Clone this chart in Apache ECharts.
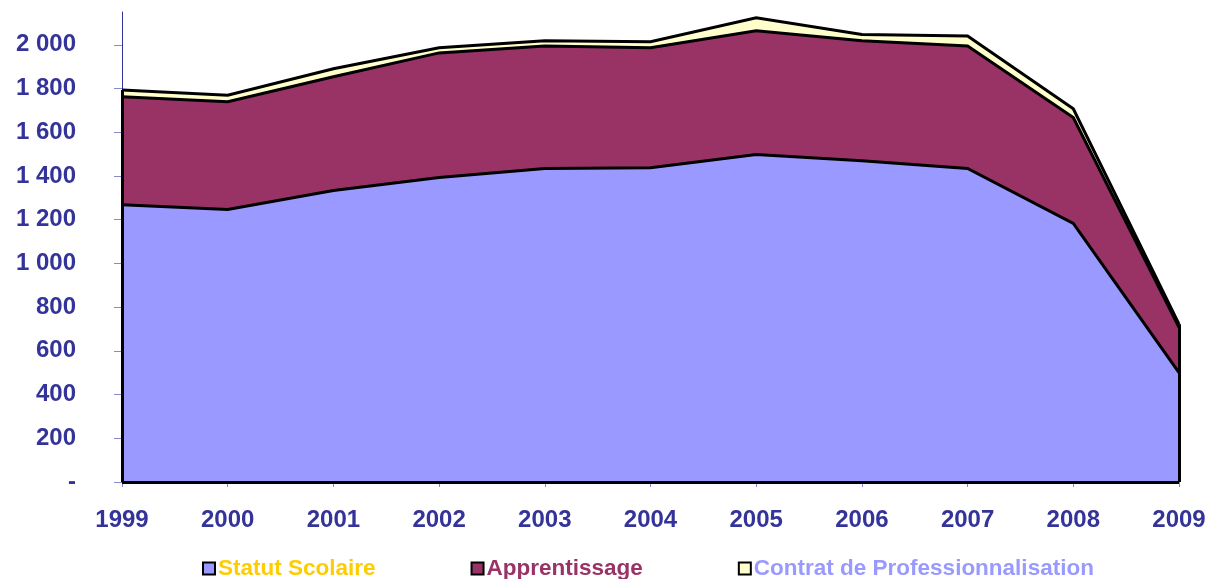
<!DOCTYPE html>
<html>
<head>
<meta charset="utf-8">
<script src="https://cdn.jsdelivr.net/npm/echarts@6/dist/echarts.min.js"></script>
<style>
html,body{margin:0;padding:0;background:#fff;}
#chart{width:1212px;height:579px;}
</style>
</head>
<body>
<div id="chart"></div>
<script>
var years = ['1999','2000','2001','2002','2003','2004','2005','2006','2007','2008','2009'];
var statutScolaire = [1268, 1247, 1333, 1393, 1434, 1438, 1498, 1470, 1434, 1183, 500];
var apprentissage = [494, 493, 521, 570, 561, 548, 566, 548, 561, 484, 208];
var contratPro = [31, 29, 36, 23, 23, 28, 60, 29, 45, 40, 14];
var yTicks = [0, 200, 400, 600, 800, 1000, 1200, 1400, 1600, 1800, 2000];
var seriesNames = ['Statut Scolaire', 'Apprentissage', 'Contrat de Professionnalisation'];
var fillColors = ['#9999FF', '#993366', '#FFFFCC'];
var legendTextColors = ['#FFCC00', '#993366', '#9999FF'];

var totals = years.map(function(_, i){ return statutScolaire[i] + apprentissage[i] + contratPro[i]; });
var last = years.length - 1;

function fmt(v){
  if (v === 0) return '-';
  return String(v).replace(/\B(?=(\d{3})+(?!\d))/g, ' ');
}

var font = 'Liberation Sans, Arial, sans-serif';
var dataArrays = [statutScolaire, apprentissage, contratPro];

var series = [];
dataArrays.forEach(function(arr, k){
  series.push({
    name: seriesNames[k],
    type: 'line',
    stack: 'areas',
    data: arr,
    symbol: 'none',
    lineStyle: {width: 0, color: fillColors[k]},
    areaStyle: {color: fillColors[k], opacity: 1},
    itemStyle: {color: fillColors[k], borderColor: '#000', borderWidth: 2},
    z: 2
  });
});
dataArrays.forEach(function(arr, k){
  series.push({
    name: '_line' + k,
    type: 'line',
    stack: 'lines',
    data: arr,
    symbol: 'none',
    silent: true,
    lineStyle: {color: '#000', width: 3, join: 'miter'},
    itemStyle: {color: '#000'},
    z: 5
  });
});
series.push({
  name: '_edges',
  type: 'line',
  data: [],
  symbol: 'none',
  silent: true,
  z: 6,
  markLine: {
    silent: true,
    symbol: 'none',
    label: {show: false},
    lineStyle: {color: '#000', width: 3, type: 'solid'},
    data: [
      [{coord: [years[0], 0]}, {coord: [years[0], totals[0]]}],
      [{coord: [years[last], 0]}, {coord: [years[last], totals[last]]}],
      [{coord: [years[0], 0]}, {coord: [years[last], 0]}]
    ]
  }
});

var chart = echarts.init(document.getElementById('chart'), null, {renderer: 'canvas'});
chart.setOption({
  animation: false,
  backgroundColor: '#fff',
  grid: {left: 122, right: 33, top: 12, bottom: 97, containLabel: false},
  legend: {
    left: 197,
    top: 552,
    itemGap: 95,
    itemWidth: 12,
    itemHeight: 12,
    icon: 'rect',
    textStyle: {fontFamily: font, fontWeight: 'bold', fontSize: 22.5, padding: [0,0,0,-2]},
    data: seriesNames.map(function(n, k){
      return {name: n, itemStyle: {color: fillColors[k], borderColor: '#000', borderWidth: 2},
              textStyle: {color: legendTextColors[k]}};
    })
  },
  xAxis: {
    type: 'category',
    data: years,
    boundaryGap: false,
    axisLine: {lineStyle: {color: '#333399', width: 1}},
    axisTick: {show: true, alignWithLabel: true, length: 5, lineStyle: {color: '#8888CC'}},
    axisLabel: {color: '#333399', fontFamily: font, fontWeight: 'bold', fontSize: 24, margin: 26},
    splitLine: {show: false}
  },
  yAxis: {
    type: 'value',
    min: 0,
    max: 2150,
    interval: 200,
    axisLine: {show: true, lineStyle: {color: '#333399', width: 1}},
    axisTick: {show: true, length: 8, lineStyle: {color: '#8888CC'}, customValues: yTicks},
    axisLabel: {color: '#333399', fontFamily: font, fontWeight: 'bold', fontSize: 24, margin: 46,
      customValues: yTicks, formatter: function(v){ return fmt(v); }},
    splitLine: {show: false}
  },
  series: series
});
</script>
</body>
</html>
